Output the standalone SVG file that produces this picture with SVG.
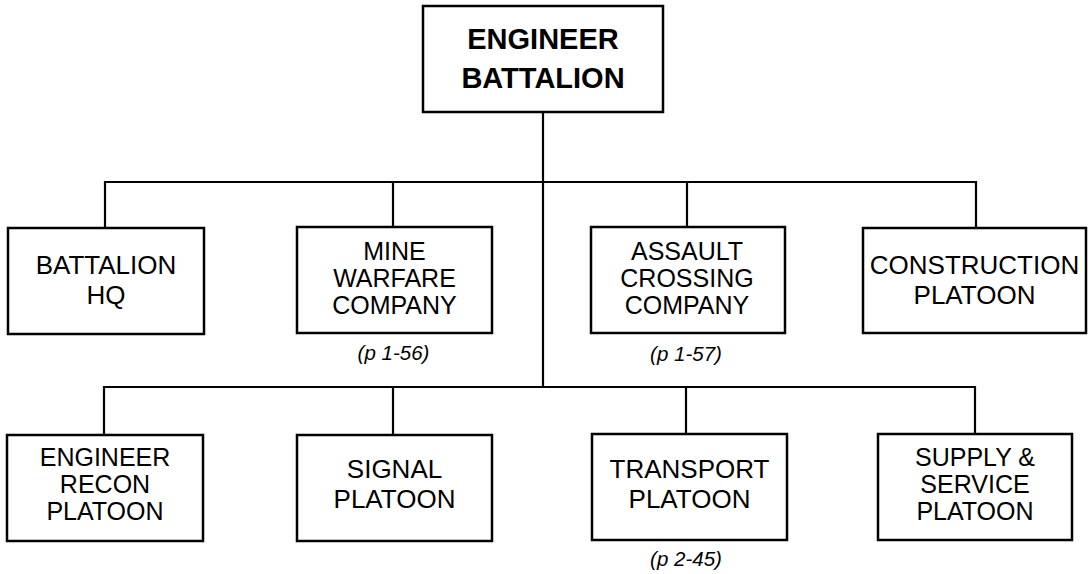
<svg xmlns="http://www.w3.org/2000/svg" width="1088" height="574" viewBox="0 0 1088 574">
<style>
.box{fill:#fff;stroke:#000;stroke-width:2.5}
.ln{fill:none;stroke:#000;stroke-width:2.2}
.t{font-family:"Liberation Sans",Arial,sans-serif;font-size:26px;text-anchor:middle;fill:#000}
.t3{font-family:"Liberation Sans",Arial,sans-serif;font-size:25px;text-anchor:middle;fill:#000}
.tb{font-family:"Liberation Sans",Arial,sans-serif;font-size:29px;font-weight:bold;text-anchor:middle;fill:#000}
.ref{font-family:"Liberation Sans",Arial,sans-serif;font-size:20.5px;font-style:italic;text-anchor:middle;fill:#000}
</style>
<rect width="1088" height="574" fill="#fff"/>
<g id="connectors">
<path class="ln" d="M543 112V387"/>
<path class="ln" d="M105 228V182H976V228"/>
<path class="ln" d="M393 182V227M687 182V227"/>
<path class="ln" d="M104 435V387H975V435"/>
<path class="ln" d="M393 387V435M686 387V435"/>
</g>
<g id="engineer-battalion">
<rect class="box" x="423" y="6" width="240" height="106"/>
<text class="tb" x="543" y="49">ENGINEER</text>
<text class="tb" x="543" y="88">BATTALION</text>
</g>
<g id="battalion-hq">
<rect class="box" x="8" y="228" width="196" height="106"/>
<text class="t" x="106" y="274">BATTALION</text>
<text class="t" x="106" y="304">HQ</text>
</g>
<g id="mine-warfare-company">
<rect class="box" x="297" y="227" width="195" height="106"/>
<text class="t3" x="394.5" y="260">MINE</text>
<text class="t3" x="394.5" y="287">WARFARE</text>
<text class="t3" x="394.5" y="314">COMPANY</text>
<text class="ref" x="393.5" y="360">(p 1-56)</text>
</g>
<g id="assault-crossing-company">
<rect class="box" x="591" y="227" width="194" height="106"/>
<text class="t3" x="687" y="260">ASSAULT</text>
<text class="t3" x="687" y="287">CROSSING</text>
<text class="t3" x="687" y="314">COMPANY</text>
<text class="ref" x="686" y="361">(p 1-57)</text>
</g>
<g id="construction-platoon">
<rect class="box" x="863" y="228" width="223" height="105"/>
<text class="t" x="974.5" y="274">CONSTRUCTION</text>
<text class="t" x="974.5" y="304">PLATOON</text>
</g>
<g id="engineer-recon-platoon">
<rect class="box" x="7" y="435" width="196" height="106"/>
<text class="t3" x="105" y="466">ENGINEER</text>
<text class="t3" x="105" y="493">RECON</text>
<text class="t3" x="105" y="520">PLATOON</text>
</g>
<g id="signal-platoon">
<rect class="box" x="297" y="435" width="195" height="106"/>
<text class="t" x="394.5" y="478">SIGNAL</text>
<text class="t" x="394.5" y="508">PLATOON</text>
</g>
<g id="transport-platoon">
<rect class="box" x="592" y="434" width="195" height="106"/>
<text class="t" x="689.5" y="478">TRANSPORT</text>
<text class="t" x="689.5" y="508">PLATOON</text>
<text class="ref" x="686" y="566">(p 2-45)</text>
</g>
<g id="supply-service-platoon">
<rect class="box" x="878" y="434" width="194" height="106"/>
<text class="t3" x="975" y="466">SUPPLY &amp;</text>
<text class="t3" x="975" y="493">SERVICE</text>
<text class="t3" x="975" y="520">PLATOON</text>
</g>
</svg>
